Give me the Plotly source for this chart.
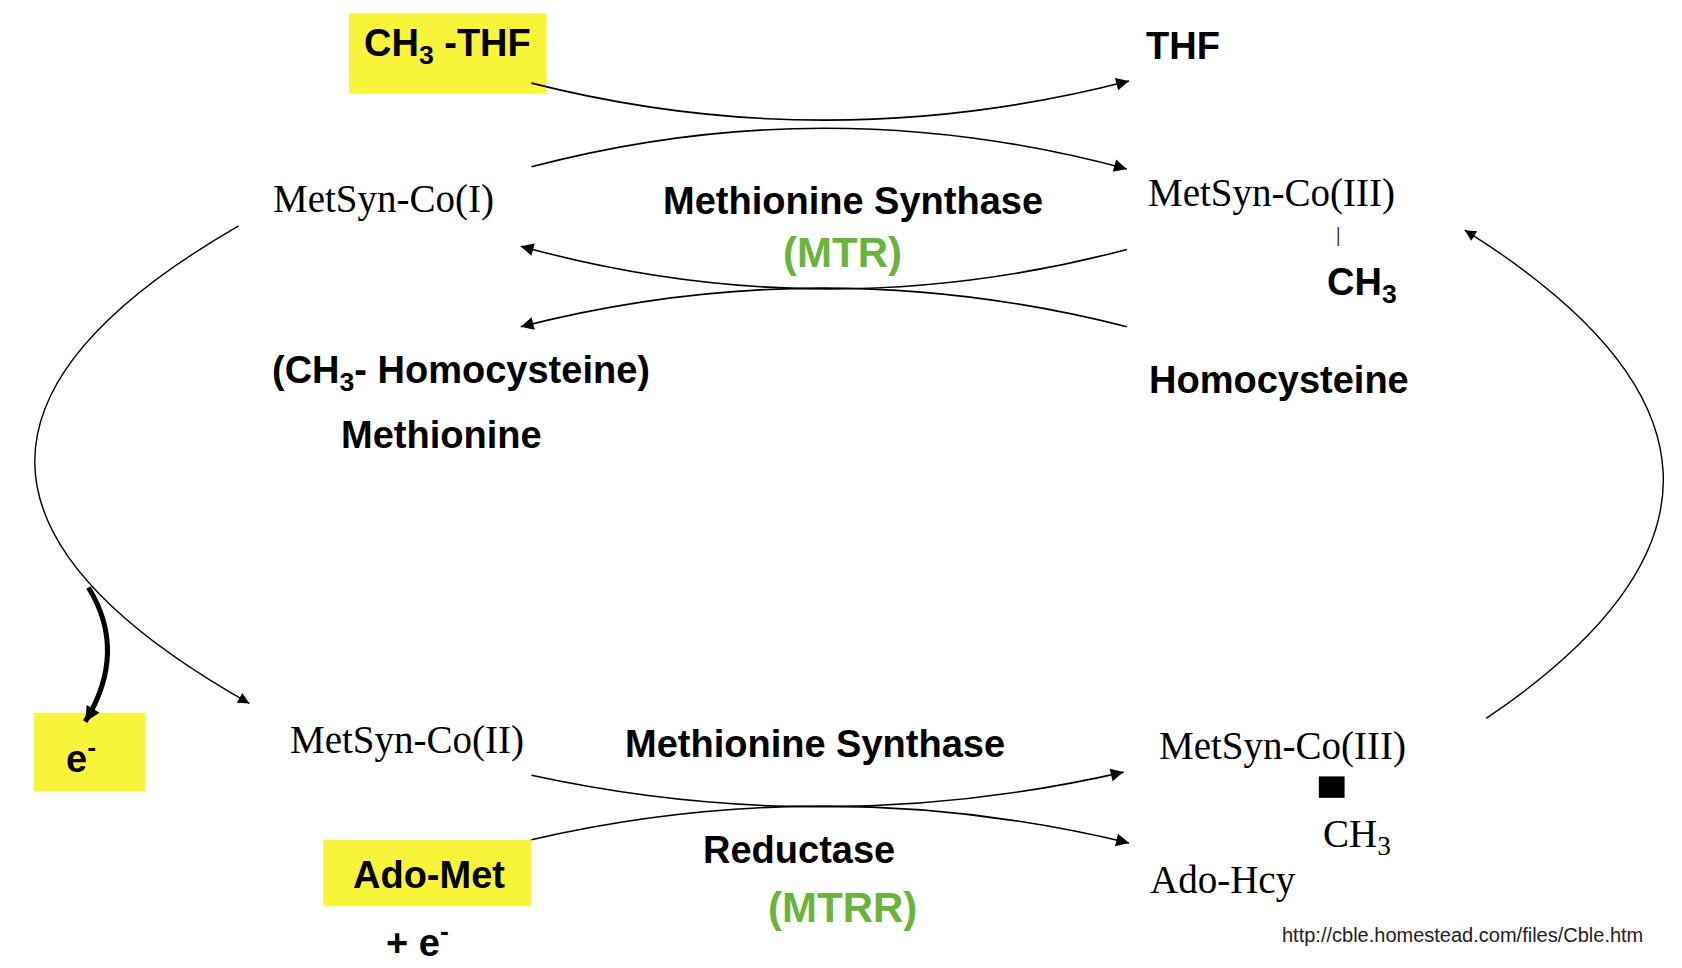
import numpy as np
import plotly.graph_objects as go

# image-space coordinates (x right, y down) of the original picture
W, H = 1568, 902

# labels: text, x, y, font key
label_text = ["CH<sub>3</sub> -THF", "THF", "MetSyn-Co(I)", "Methionine Synthase", "(MTR)",
              "MetSyn-Co(III)", "|", "CH<sub>3</sub>", "(CH<sub>3</sub>- Homocysteine)", "Methionine",
              "Homocysteine", "MetSyn-Co(II)", "Methionine Synthase", "MetSyn-Co(III)",
              "CH<sub>3</sub>", "Reductase", "(MTRR)", "Ado-Met", "+ e<sup>-</sup>", "Ado-Hcy",
              "e<sup>-</sup>", "http://cble.homestead.com/files/Cble.htm"]
label_x = [410, 1095, 350, 788, 778, 1178, 1240, 1262, 422, 404, 1185, 372, 752, 1188,
           1258, 737, 778, 392, 382, 1133, 68, 1356]
label_y = [35, 35, 178, 180, 228, 172, 210, 258, 340, 398, 347, 682, 686, 688,
           772, 785, 838, 808, 868, 813, 697, 864]
SANS, SERIF = "Liberation Sans", "Liberation Serif"
label_font = ["b", "b", "s", "b", "g", "s", "t", "b", "b", "b", "b", "s", "b", "s",
              "s", "b", "g", "b", "b", "s", "b", "u"]

# yellow highlight boxes
box_x0 = [318, 24, 294]
box_x1 = [502, 128, 488]
box_y0 = [5, 657, 775]
box_y1 = [80, 730, 837]

# quadratic curves: start, control, end, width
curve_start = [(488, 70), (488, 148), (1043, 225), (1043, 297), (215, 203),
               (1378, 662), (488, 715), (488, 775), (75, 540)]
curve_ctrl = [(765, 140), (765, 75), (760, 300), (760, 225), (-170, 425),
              (1718, 432), (764, 775), (766, 711), (112, 600)]
curve_end = [(1045, 68), (1043, 150), (478, 222), (478, 297), (225, 648),
             (1358, 207), (1040, 712), (1045, 778), (72, 665)]
curve_w = [1.6, 1.6, 1.6, 1.6, 1.4, 1.4, 1.6, 1.6, 5]

fig = go.Figure()
fig.add_trace(go.Scatter(x=[0, W], y=[0, H], mode="markers", marker=dict(opacity=0),
                         hoverinfo="skip", showlegend=False))

for x0, x1, y0, y1 in zip(box_x0, box_x1, box_y0, box_y1):
    fig.add_shape(type="rect", x0=x0, x1=x1, y0=y0, y1=y1, fillcolor="#f8f43a",
                  line=dict(width=0), layer="below")

for s, c, e, w in zip(curve_start, curve_ctrl, curve_end, curve_w):
    fig.add_shape(type="path", path=f"M {s[0]},{s[1]} Q {c[0]},{c[1]} {e[0]},{e[1]}",
                  line=dict(color="black", width=w))
    d = np.array(e, float) - np.array(c, float)
    d /= np.hypot(*d)
    tail = np.array(e) - 12 * d
    fig.add_annotation(x=e[0], y=e[1], ax=tail[0], ay=tail[1], axref="x", ayref="y",
                       text="", showarrow=True, arrowhead=2, arrowsize=1.6 if w < 3 else 0.6,
                       arrowwidth=w, arrowcolor="black")

# small filled square under the lower MetSyn-Co(III)
fig.add_shape(type="rect", x0=1222, x1=1246, y0=716, y1=736, fillcolor="black",
              line=dict(width=0))
# faint frame at right edge
fig.add_shape(type="line", x0=1564, x1=1564, y0=0, y1=H, line=dict(color="#c8c8c8", width=3))

styles = {
    "b": dict(family=SANS, size=38, color="black", weight="bold"),
    "s": dict(family=SERIF, size=39, color="black"),
    "t": dict(family=SERIF, size=22, color="black"),
    "g": dict(family=SANS, size=42, color="#6ab43c", weight="bold"),
    "u": dict(family=SANS, size=20, color="#222222"),
}
for t, x, y, f in zip(label_text, label_x, label_y, label_font):
    fig.add_annotation(x=x, y=y, text=t, showarrow=False, font=styles[f],
                       xanchor="center", yanchor="middle")

fig.update_layout(
    width=1682, height=968, margin=dict(l=0, r=0, t=0, b=0),
    plot_bgcolor="white", paper_bgcolor="white",
    xaxis=dict(range=[0, W], visible=False, fixedrange=True),
    yaxis=dict(range=[H, 0], visible=False, fixedrange=True),
)
fig.write_html("out.html")
